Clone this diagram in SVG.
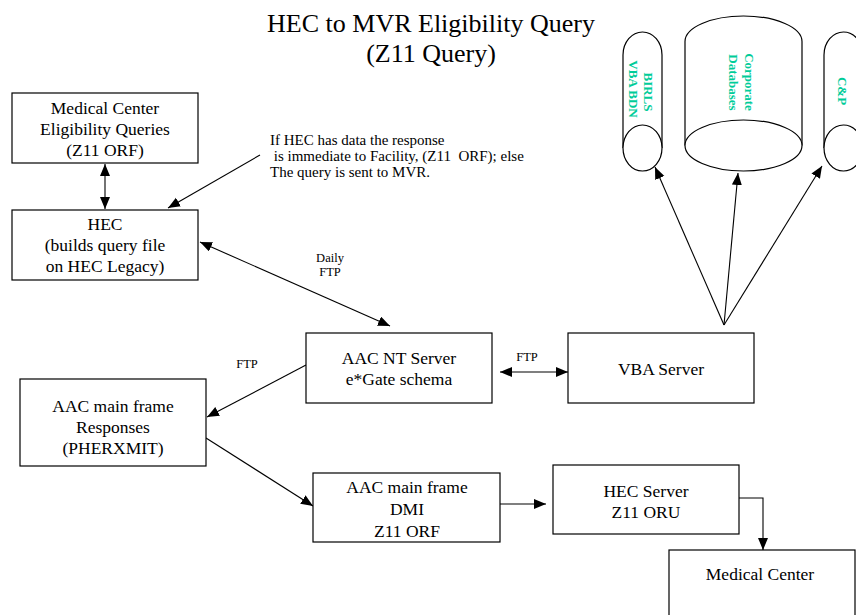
<svg xmlns="http://www.w3.org/2000/svg" width="856" height="615" viewBox="0 0 856 615">
<style>
text{font-family:'Liberation Serif','Tinos','Times New Roman','DejaVu Serif',serif}
.box{fill:#fff;stroke:#000;stroke-width:1.2}
.cyl{fill:#fff;stroke:#000;stroke-width:1.2}
.t{font-size:17.5px;fill:#000;text-anchor:middle}
.s{font-size:12.5px;fill:#000;text-anchor:middle}
.n{font-size:15px;fill:#000}
.title{font-size:26px;fill:#000;text-anchor:middle}
.g{font-size:13px;font-weight:bold;fill:#00CC99;text-anchor:middle}
.c{fill:none;stroke:#000;stroke-width:1.1}
</style>
<defs>
<marker id="ah" markerUnits="userSpaceOnUse" markerWidth="13" markerHeight="11" refX="12" refY="5" orient="auto-start-reverse" viewBox="0 0 13 11">
<path d="M0,0 L12,5 L0,10 z" fill="#000"/>
</marker>
</defs>
<rect width="856" height="615" fill="#fff"/>

<g id="title">
<text class="title" x="431" y="32">HEC to MVR Eligibility Query</text>
<text class="title" x="431" y="62">(Z11 Query)</text>
</g>

<g id="connectors">
<line class="c" x1="105" y1="164" x2="105" y2="209" marker-start="url(#ah)" marker-end="url(#ah)"/>
<line class="c" x1="260" y1="155" x2="168" y2="208" marker-end="url(#ah)"/>
<line class="c" x1="200" y1="242" x2="390" y2="326" marker-start="url(#ah)" marker-end="url(#ah)"/>
<line class="c" x1="306" y1="365" x2="207" y2="417" marker-end="url(#ah)"/>
<line class="c" x1="500" y1="372" x2="568" y2="372" marker-start="url(#ah)" marker-end="url(#ah)"/>
<line class="c" x1="206" y1="438" x2="313" y2="506" marker-end="url(#ah)"/>
<line class="c" x1="500" y1="504" x2="546" y2="504" marker-end="url(#ah)"/>
<path class="c" d="M739,498 H763 V550" marker-end="url(#ah)"/>
<line class="c" x1="724" y1="325" x2="655" y2="167" marker-end="url(#ah)"/>
<line class="c" x1="724" y1="325" x2="738" y2="173" marker-end="url(#ah)"/>
<line class="c" x1="724" y1="325" x2="822" y2="166" marker-end="url(#ah)"/>
<text class="s" x="330" y="262">Daily</text>
<text class="s" x="330" y="276">FTP</text>
<text class="s" x="247" y="368">FTP</text>
<text class="s" x="527" y="361">FTP</text>
</g>

<g id="note">
<text class="n" x="270" y="145">If HEC has data the response</text>
<text class="n" x="270" y="161" xml:space="preserve"> is immediate to Facility, (Z11  ORF); else</text>
<text class="n" x="270" y="177">The query is sent to MVR.</text>
</g>

<g id="medical-center-queries">
<rect class="box" x="12" y="93" width="186" height="70"/>
<text class="t" x="105" y="114">Medical Center</text>
<text class="t" x="105" y="135">Eligibility Queries</text>
<text class="t" x="105" y="156">(Z11 ORF)</text>
</g>

<g id="hec">
<rect class="box" x="12" y="210" width="186" height="70"/>
<text class="t" x="105" y="230">HEC</text>
<text class="t" x="105" y="251">(builds query file</text>
<text class="t" x="105" y="272">on HEC Legacy)</text>
</g>

<g id="aac-nt-server">
<rect class="box" x="306" y="333" width="186" height="70"/>
<text class="t" x="399" y="364">AAC NT Server</text>
<text class="t" x="399" y="385">e*Gate schema</text>
</g>

<g id="vba-server">
<rect class="box" x="568" y="333" width="186" height="70"/>
<text class="t" x="661" y="375">VBA Server</text>
</g>

<g id="aac-responses">
<rect class="box" x="20" y="379" width="186" height="87"/>
<text class="t" x="113" y="412">AAC main frame</text>
<text class="t" x="113" y="433">Responses</text>
<text class="t" x="113" y="454">(PHERXMIT)</text>
</g>

<g id="aac-dmi">
<rect class="box" x="313" y="473" width="187" height="69"/>
<text class="t" x="407" y="493">AAC main frame</text>
<text class="t" x="407" y="515">DMI</text>
<text class="t" x="407" y="537">Z11 ORF</text>
</g>

<g id="hec-server">
<rect class="box" x="553" y="465" width="186" height="69"/>
<text class="t" x="646" y="497">HEC Server</text>
<text class="t" x="646" y="518">Z11 ORU</text>
</g>

<g id="medical-center">
<rect class="box" x="669" y="550" width="186" height="80"/>
<text class="t" x="760" y="580">Medical Center</text>
</g>

<g id="birls">
<path class="cyl" d="M623,148 V55 A19.5,23 0 0 1 662,55 V148"/>
<ellipse class="cyl" cx="642.5" cy="148" rx="19.5" ry="23"/>
<text class="g" transform="translate(644,92) rotate(90)">BIRLS</text>
<text class="g" transform="translate(629,89) rotate(90)">VBA BDN</text>
</g>

<g id="corporate">
<path class="cyl" d="M685,145.5 V41.5 A58.5,25.5 0 0 1 802,41.5 V145.5"/>
<ellipse class="cyl" cx="743.5" cy="145.5" rx="58.5" ry="25.5"/>
<text class="g" transform="translate(745,82) rotate(90)">Corporate</text>
<text class="g" transform="translate(729,82.5) rotate(90)">Databases</text>
</g>

<g id="cp">
<path class="cyl" d="M824,148 V55 A19.5,23 0 0 1 863,55 V148"/>
<ellipse class="cyl" cx="843.5" cy="148" rx="19.5" ry="23"/>
<text class="g" transform="translate(838,91) rotate(90)">C&amp;P</text>
</g>
</svg>
